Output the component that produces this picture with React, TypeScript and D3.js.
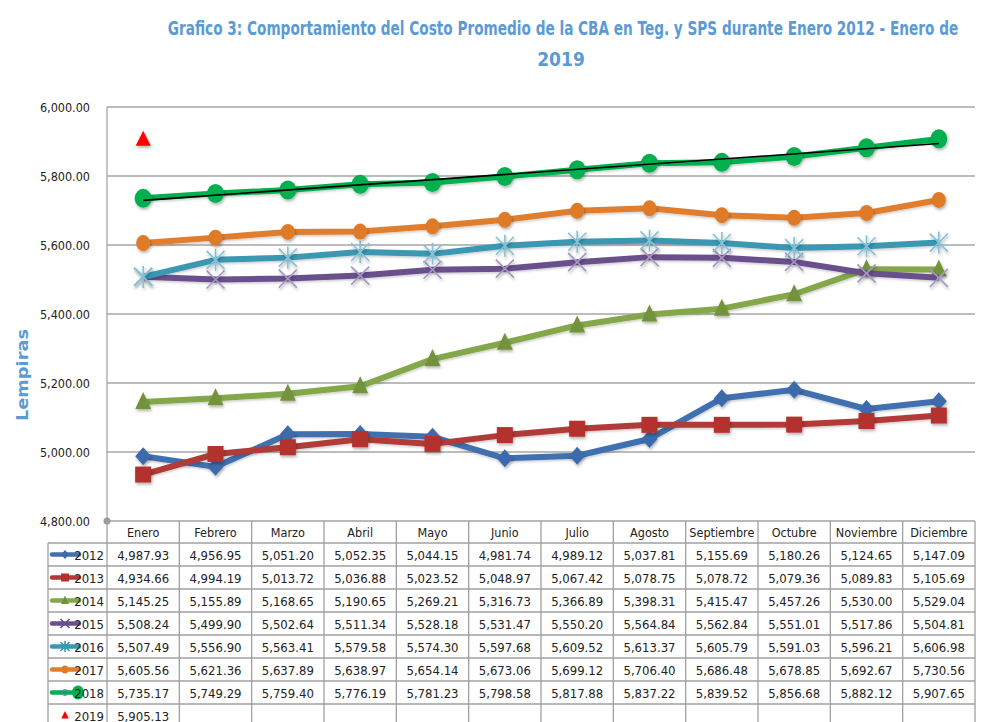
import React, { useLayoutEffect, useRef, useState } from 'react';
import * as d3 from 'd3';

const months = ['Enero','Febrero','Marzo','Abril','Mayo','Junio','Julio','Agosto','Septiembre','Octubre','Noviembre','Diciembre'];
const years = ['2012','2013','2014','2015','2016','2017','2018'];
const v2012 = [4987.93,4956.95,5051.20,5052.35,5044.15,4981.74,4989.12,5037.81,5155.69,5180.26,5124.65,5147.09];
const v2013 = [4934.66,4994.19,5013.72,5036.88,5023.52,5048.97,5067.42,5078.75,5078.72,5079.36,5089.83,5105.69];
const v2014 = [5145.25,5155.89,5168.65,5190.65,5269.21,5316.73,5366.89,5398.31,5415.47,5457.26,5530.00,5529.04];
const v2015 = [5508.24,5499.90,5502.64,5511.34,5528.18,5531.47,5550.20,5564.84,5562.84,5551.01,5517.86,5504.81];
const v2016 = [5507.49,5556.90,5563.41,5579.58,5574.30,5597.68,5609.52,5613.37,5605.79,5591.03,5596.21,5606.98];
const v2017 = [5605.56,5621.36,5637.89,5638.97,5654.14,5673.06,5699.12,5706.40,5686.48,5678.85,5692.67,5730.56];
const v2018 = [5735.17,5749.29,5759.40,5776.19,5781.23,5798.58,5817.88,5837.22,5839.52,5856.68,5882.12,5907.65];
const v2019 = [5905.13];
const yTicks = [4800,5000,5200,5400,5600,5800,6000];

const seriesValues = [v2012, v2013, v2014, v2015, v2016, v2017, v2018];
const lineColors = ['#4070B0','#B03A37','#84A74A','#6A4F8D','#3A97B2','#E07E2F','#00B050'];
const markerColors = ['#3C6BAC','#B3312F','#72933A','#A596C4','#83C3D8','#DF7A27','#00B050'];
const legendMarkerColors = ['#3C6BAC','#B3312F','#72933A','#6A4F8D','#3A97B2','#DF7A27','#00B050'];
const markerKinds = ['diamond','square','triangle','x','star','circle','bigcircle'];

const W = 982, H = 722;
const L = 107, R = 975, T = 107, B = 521;
const tableLeft = 48;
const headerBottom = 543;
const rowH = 23;
const font = '"Liberation Sans Narrow","Arial Narrow","DejaVu Sans Condensed",sans-serif';
const fmt = d3.format(',.2f');
const titleLine1 = 'Grafico 3: Comportamiento del Costo Promedio de la CBA en Teg. y SPS durante Enero 2012 - Enero de';
const titleLine2 = '2019';

function Marker({ kind, x, y, color, scale = 1 }: { kind: string; x: number; y: number; color: string; scale?: number }) {
  const s = scale;
  if (kind === 'diamond') {
    return <path d={`M${x},${y - 9 * s}L${x + 8 * s},${y}L${x},${y + 9 * s}L${x - 8 * s},${y}Z`} fill={color} />;
  }
  if (kind === 'square') {
    return <rect x={x - 8 * s} y={y - 8 * s} width={16 * s} height={16 * s} fill={color} />;
  }
  if (kind === 'triangle') {
    return <path d={`M${x},${y - 10 * s}L${x + 8 * s},${y + 7 * s}L${x - 8 * s},${y + 7 * s}Z`} fill={color} />;
  }
  if (kind === 'x') {
    const r = 9 * s;
    return <path d={`M${x - r},${y - r}L${x + r},${y + r}M${x - r},${y + r}L${x + r},${y - r}`} stroke={color} strokeWidth={1.6} fill="none" />;
  }
  if (kind === 'star') {
    const r = 9 * s;
    return <path d={`M${x - r},${y - r}L${x + r},${y + r}M${x - r},${y + r}L${x + r},${y - r}M${x},${y - r - 2 * s}L${x},${y + r + 2 * s}`} stroke={color} strokeWidth={1.6} fill="none" />;
  }
  if (kind === 'circle') {
    return <ellipse cx={x} cy={y} rx={7 * s} ry={8 * s} fill={color} />;
  }
  if (kind === 'bigcircle') {
    return <ellipse cx={x} cy={y} rx={8.5 * s} ry={9.5 * s} fill={color} />;
  }
  if (kind === 'redtri') {
    return <path d={`M${x},${y - 9 * s}L${x + 7.5 * s},${y + 6 * s}L${x - 7.5 * s},${y + 6 * s}Z`} fill={color} />;
  }
  return null;
}

export default function App() {
  const titleRef = useRef<SVGTextElement>(null);
  const [sx, setSx] = useState(0.78);
  useLayoutEffect(() => {
    if (titleRef.current) {
      const len = titleRef.current.getComputedTextLength();
      if (len > 0) setSx(790 / len);
    }
  }, []);

  const x = d3.scaleBand<string>().domain(months).range([L, R]);
  const bw = x.bandwidth();
  const cx = (m: string) => (x(m) as number) + bw / 2;
  const y = d3.scaleLinear().domain([4800, 6000]).range([B, T]);
  const line = d3.line<number>().x((_, i) => cx(months[i])).y((d) => y(d));

  // linear trendline for 2018
  const idx = v2018.map((_, i) => i);
  const mx = d3.mean(idx) as number;
  const my = d3.mean(v2018) as number;
  const slope = d3.sum(idx, (i) => (i - mx) * (v2018[i] - my)) / d3.sum(idx, (i) => (i - mx) * (i - mx));
  const icpt = my - slope * mx;
  const trend = [icpt, icpt + slope * (months.length - 1)];

  const rowsY = d3.range(years.length + 2).map((i) => headerBottom + i * rowH);

  return (
    <svg width={W} height={H} style={{ position: 'absolute', left: 0, top: 0, background: '#fff' }}>
      <defs>
        <filter id="sh" x="-50%" y="-50%" width="200%" height="200%">
          <feDropShadow dx="1" dy="2" stdDeviation="1.4" floodColor="#000" floodOpacity="0.3" />
        </filter>
        <filter id="shl" x="-5%" y="-20%" width="110%" height="140%">
          <feDropShadow dx="0.5" dy="1.5" stdDeviation="1" floodColor="#000" floodOpacity="0.2" />
        </filter>
      </defs>
      {/* title */}
      <g transform={`translate(563,35) scale(${sx},1)`}>
        <text ref={titleRef} x={0} y={0} textAnchor="middle" fontFamily={font} fontWeight="bold" fontSize={19} fill="#5B9BD5">
          {titleLine1}
        </text>
      </g>
      <text x={561} y={66} textAnchor="middle" fontFamily={font} fontWeight="bold" fontSize={19} fill="#5B9BD5">{titleLine2}</text>
      {/* y label */}
      <text transform={`translate(28,375) rotate(-90)`} textAnchor="middle" fontFamily='"DejaVu Sans",sans-serif' fontWeight="bold" fontSize={16} fill="#5B9BD5" textLength={92} lengthAdjust="spacingAndGlyphs">Lempiras</text>
      {/* grid */}
      {yTicks.filter((t) => t > 4800).map((t) => (
        <line key={t} x1={L} x2={R} y1={y(t)} y2={y(t)} stroke="#A6A6A6" strokeWidth={1.3} />
      ))}
      <line x1={L} x2={L} y1={T} y2={B} stroke="#A6A6A6" strokeWidth={1.3} />
      <circle cx={L} cy={B} r={3.5} fill="#9A9A9A" />
      {yTicks.map((t) => (
        <text key={t} x={90} y={y(t) + 5} textAnchor="end" fontFamily={font} fontSize={12.5} fill="#222">{fmt(t)}</text>
      ))}
      {/* series */}
      {seriesValues.map((vals, si) => (
        <g key={years[si]}>
          <path d={line(vals) as string} fill="none" stroke={lineColors[si]} strokeWidth={6} strokeLinejoin="round" filter="url(#shl)" />
          <g filter="url(#sh)">
            {vals.map((v, i) => (
              <Marker key={i} kind={markerKinds[si]} x={cx(months[i])} y={y(v)} color={markerColors[si]} />
            ))}
          </g>
        </g>
      ))}
      <line x1={cx(months[0])} x2={cx(months[months.length - 1])} y1={y(trend[0])} y2={y(trend[1])} stroke="#000" strokeWidth={1.6} />
      <g filter="url(#sh)">
        {v2019.map((v, i) => (
          <Marker key={i} kind="redtri" x={cx(months[i])} y={y(v)} color="#FF0000" />
        ))}
      </g>
      {/* table */}
      <g stroke="#A0A0A0" strokeWidth={1.3}>
        <line x1={L} x2={R} y1={B} y2={B} />
        {rowsY.map((ry, i) => (
          <line key={i} x1={tableLeft} x2={R} y1={ry} y2={ry} />
        ))}
        <line x1={tableLeft} x2={tableLeft} y1={headerBottom} y2={H} />
        {months.map((m) => (
          <line key={m} x1={x(m) as number} x2={x(m) as number} y1={B} y2={H} />
        ))}
        <line x1={R} x2={R} y1={B} y2={H} />
      </g>
      {months.map((m) => (
        <text key={m} x={cx(m)} y={B + 16} textAnchor="middle" fontFamily={font} fontSize={12.5} fill="#222">{m}</text>
      ))}
      {years.map((yr, si) => {
        const ry = headerBottom + si * rowH + rowH / 2;
        return (
          <g key={yr}>
            <line x1={52} x2={79} y1={ry} y2={ry} stroke={lineColors[si]} strokeWidth={4.5} strokeLinecap="round" />
            {si === 6 ? (
              <>
                <circle cx={65} cy={ry} r={3} fill="none" stroke="#4F81BD" strokeWidth={1} />
                <ellipse cx={78} cy={ry} rx={6} ry={7} fill="#00B050" />
              </>
            ) : (
              <Marker kind={markerKinds[si]} x={65} y={ry} color={legendMarkerColors[si]} scale={0.5} />
            )}
            <text x={104} y={ry + 5} textAnchor="end" fontFamily={font} fontSize={13} fill="#222">{yr}</text>
            {seriesValues[si].map((v, i) => (
              <text key={i} x={cx(months[i])} y={ry + 5} textAnchor="middle" fontFamily={font} fontSize={13} fill="#222">{fmt(v)}</text>
            ))}
          </g>
        );
      })}
      {(() => {
        const ry = headerBottom + years.length * rowH + rowH / 2;
        return (
          <g>
            <Marker kind="redtri" x={65} y={ry} color="#FF0000" scale={0.5} />
            <text x={104} y={ry + 5} textAnchor="end" fontFamily={font} fontSize={13} fill="#222">2019</text>
            {v2019.map((v, i) => (
              <text key={i} x={cx(months[i])} y={ry + 5} textAnchor="middle" fontFamily={font} fontSize={13} fill="#222">{fmt(v)}</text>
            ))}
          </g>
        );
      })()}
    </svg>
  );
}
